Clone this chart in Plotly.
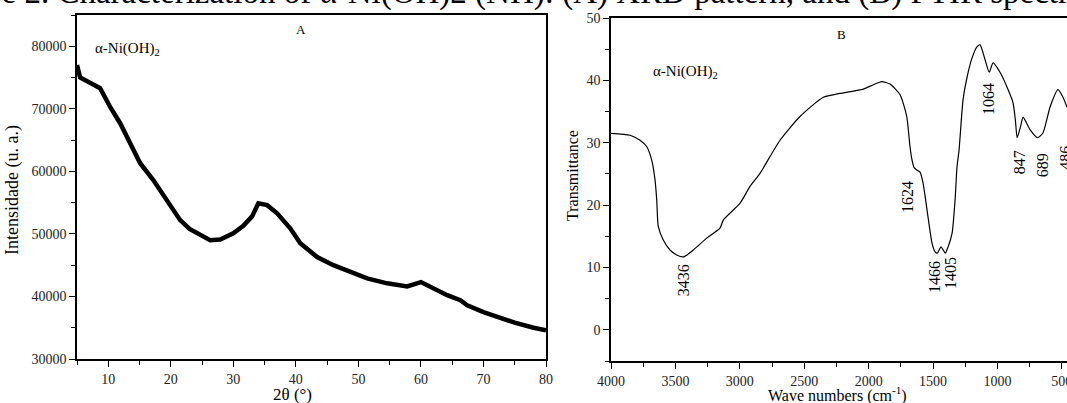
import plotly.graph_objects as go

# ---------------- data ----------------
xrd_two_theta = [5.0, 5.5, 7.0, 8.7, 10.3, 11.9, 13.5, 15.1, 17.2, 19.4, 21.5, 23.0,
                 24.7, 26.3, 27.9, 30.0, 31.6, 33.0, 34.0, 35.4, 37.0, 39.1, 40.7,
                 43.4, 46.0, 48.7, 51.4, 54.6, 57.8, 60.0, 62.0, 64.2, 66.3, 67.4,
                 70.0, 72.7, 75.0, 78.0, 80.0]
xrd_intensity = [77000, 75000, 74200, 73300, 70300, 67700, 64500, 61300, 58600, 55400,
                 52200, 50800, 49800, 49000, 49100, 50100, 51300, 52800, 54900, 54600,
                 53300, 50900, 48500, 46300, 45000, 43900, 42900, 42100, 41600, 42300,
                 41300, 40200, 39400, 38600, 37500, 36500, 35800, 35000, 34600]

ftir_wavenumber = [4000, 3852, 3775, 3723, 3684, 3658, 3645, 3633, 3594, 3542, 3490,
                   3436, 3361, 3257, 3154, 3128, 2998, 2921, 2843, 2688, 2533, 2352,
                   2223, 2041, 1963, 1898, 1834, 1756, 1704, 1679, 1663, 1647, 1624,
                   1601, 1578, 1539, 1508, 1484, 1466, 1438, 1405, 1383, 1352, 1329,
                   1314, 1298, 1267, 1236, 1197, 1158, 1135, 1096, 1064, 1034, 980,
                   925, 879, 860, 847, 817, 801, 747, 689, 646, 592, 530, 491, 460]
ftir_transmittance = [31.5, 31.2, 30.4, 29.4, 27.2, 24.0, 20.8, 16.6, 14.4, 12.8, 12.0,
                      11.7, 12.8, 14.7, 16.3, 17.6, 20.3, 23.0, 25.1, 30.4, 34.2, 37.3,
                      37.9, 38.6, 39.3, 39.8, 39.4, 37.7, 34.2, 29.4, 27.2, 26.0, 25.6,
                      25.3, 23.6, 18.1, 13.9, 12.5, 12.3, 13.3, 12.3, 13.3, 15.5, 20.8,
                      26.1, 28.8, 36.9, 40.5, 43.6, 45.4, 45.7, 43.3, 41.3, 42.8, 41.3,
                      38.9, 36.4, 33.5, 30.8, 32.9, 34.1, 32.1, 30.8, 31.6, 35.7, 38.5,
                      37.3, 35.7]

peak_labels = ["3436", "1624", "1466", "1405", "1064", "847", "689", "486"]
peak_label_x = [3436, 1694, 1484, 1368, 1073, 832, 654, 467]
peak_label_y = [7.9, 21.3, 8.5, 9.1, 37.0, 26.9, 26.4, 27.6]

xrd_ticks = [10, 20, 30, 40, 50, 60, 70, 80]
ftir_ticks = [4000, 3500, 3000, 2500, 2000, 1500, 1000, 500]

# ---------------- figure ----------------
FONT = "Liberation Serif"
W, H = 1067, 403


def px_x(p):
    return p / W


def px_y(p):
    return 1 - p / H


fig = go.Figure()
fig.add_trace(go.Scatter(x=xrd_two_theta, y=xrd_intensity, mode="lines",
                         line=dict(color="black", width=4.5), xaxis="x", yaxis="y",
                         showlegend=False, hoverinfo="x+y"))
fig.add_trace(go.Scatter(x=ftir_wavenumber, y=ftir_transmittance, mode="lines",
                         line=dict(color="black", width=1.2, shape="spline", smoothing=0.6),
                         xaxis="x2", yaxis="y2", showlegend=False, hoverinfo="x+y"))

minor_common = dict(ticks="outside", ticklen=4, tickwidth=1.2, tickcolor="black", showgrid=False)
axis_common = dict(showline=True, linecolor="black", linewidth=1.5, mirror=True,
                   ticks="outside", ticklen=6, tickwidth=1.2, tickcolor="black",
                   showgrid=False, zeroline=False, automargin=False,
                   tickfont=dict(family=FONT, size=14, color="#222"))

fig.update_layout(
    width=W, height=H,
    margin=dict(l=0, r=0, t=0, b=0),
    paper_bgcolor="white", plot_bgcolor="white",
    font=dict(family=FONT, color="black"),
    xaxis=dict(axis_common, domain=[px_x(77), px_x(546)], range=[5, 80],
               tickvals=xrd_ticks, minor=dict(minor_common, dtick=5, tick0=0),
               anchor="y"),
    yaxis=dict(axis_common, domain=[px_y(359), px_y(15)], range=[30000, 85000],
               dtick=10000, tick0=30000, tickformat="d",
               minor=dict(minor_common, dtick=5000, tick0=30000),
               anchor="x"),
    xaxis2=dict(axis_common, domain=[px_x(611), 1.0], range=[4000, 460],
                tickvals=ftir_ticks, minor=dict(minor_common, dtick=250, tick0=0),
                ticklabeloverflow="allow", anchor="y2"),
    yaxis2=dict(axis_common, domain=[px_y(361), px_y(18)], range=[-5, 50],
                dtick=10, tick0=0,
                minor=dict(minor_common, dtick=5, tick0=0),
                anchor="x2"),
)

ann = []
# cut-off caption at the top of the reference crop
ann.append(dict(text="Figure 2. Characterization of α-Ni(OH)2 (NH): (A) XRD pattern, and (B) FTIR spectrum",
                xref="paper", yref="paper", x=px_x(-72), y=px_y(13), xanchor="left", yanchor="bottom",
                showarrow=False, font=dict(family=FONT, size=33, color="black")))
# axis titles
ann.append(dict(text="Intensidade (u. a.)", xref="paper", yref="paper", x=px_x(12), y=px_y(190),
                xanchor="center", yanchor="middle",
                textangle=-90, showarrow=False, font=dict(family=FONT, size=18)))
ann.append(dict(text="2θ (°)", xref="paper", yref="paper", x=px_x(292), y=px_y(394),
                xanchor="center", yanchor="middle",
                showarrow=False, font=dict(family=FONT, size=17)))
ann.append(dict(text="Transmittance", xref="paper", yref="paper", x=px_x(572), y=px_y(176),
                xanchor="center", yanchor="middle",
                textangle=-90, showarrow=False, font=dict(family=FONT, size=16)))
ann.append(dict(text="Wave numbers (cm<sup>-1</sup>)", xref="paper", yref="paper", x=px_x(837), y=px_y(394),
                xanchor="center", yanchor="middle",
                showarrow=False, font=dict(family=FONT, size=16)))
# panel letters and sample labels
ann.append(dict(text="A", xref="x", yref="y", x=40.8, y=82700, showarrow=False,
                font=dict(family=FONT, size=13)))
ann.append(dict(text="B", xref="x2", yref="y2", x=2207, y=47.4, showarrow=False,
                font=dict(family=FONT, size=13)))
ann.append(dict(text="α-Ni(OH)<sub>2</sub>", xref="x", yref="y", x=13.1, y=79600, showarrow=False,
                font=dict(family=FONT, size=15)))
ann.append(dict(text="α-Ni(OH)<sub>2</sub>", xref="x2", yref="y2", x=3418, y=41.3, showarrow=False,
                font=dict(family=FONT, size=15)))
for t, x, y in zip(peak_labels, peak_label_x, peak_label_y):
    ann.append(dict(text=t, xref="x2", yref="y2", x=x, y=y, textangle=-90, showarrow=False,
                    font=dict(family=FONT, size=16)))
fig.update_layout(annotations=ann)

# remove the browser's default page margin so the figure sits at the window's corner
fig.write_html("out.html", config={"displayModeBar": False},
               post_script="document.body.style.margin='0px';document.body.style.overflow='hidden';")
